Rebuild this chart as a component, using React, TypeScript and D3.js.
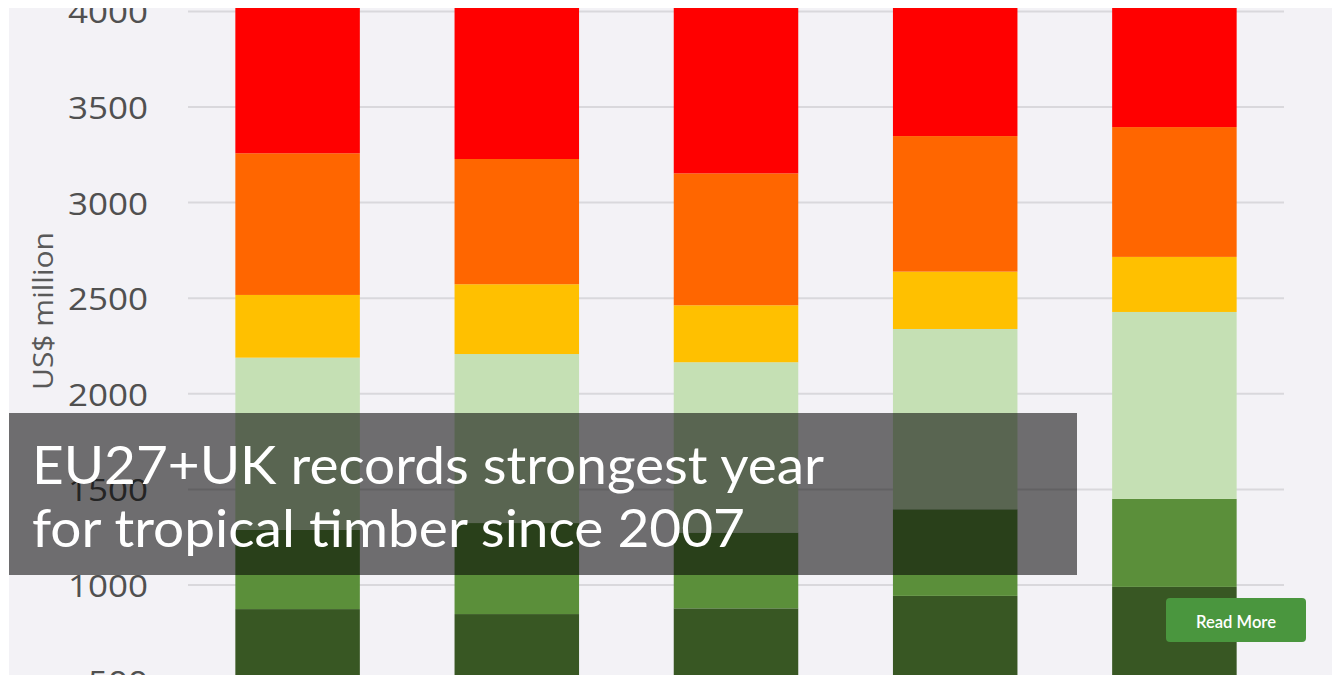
import React from "react";
import * as d3 from "d3";

const years = ["2017", "2018", "2019", "2020", "2021"];
const seriesNames = ["Series A", "Series B", "Series C", "Series D", "Series E", "Series F"];
const seriesColors = ["#385723", "#5b8f3a", "#c5e0b4", "#ffc000", "#ff6600", "#ff0000"];
const darkGreen = [874, 848, 878, 943, 990];
const midGreen = [414, 476, 396, 453, 460];
const lightGreen = [901, 884, 891, 943, 978];
const yellow = [328, 365, 298, 300, 288];
const orange = [741, 655, 690, 709, 679];
const red = [1050, 1030, 1020, 1080, 1170];
const yTicks = [500, 1000, 1500, 2000, 2500, 3000, 3500, 4000];
const titleLines = ["EU27+UK records strongest year", "for tropical timber since 2007"];

const W = 1332;
const H = 675;

export default function App() {
  const seriesValues = [darkGreen, midGreen, lightGreen, yellow, orange, red];
  const rows = years.map((yr, i) => {
    const r: any = { year: yr };
    seriesNames.forEach((s, k) => (r[s] = seriesValues[k][i]));
    return r;
  });
  const stacked = d3.stack().keys(seriesNames)(rows as any);

  const x = d3.scaleBand().domain(years).range([188, 1284]).paddingInner(0.432).paddingOuter(0.216);
  const y = d3.scaleLinear().domain([0, 4000]).range([776.2, 11.4]);

  const frame = { x: 9, y: 8, w: W - 9, h: H - 8 };

  return (
    <svg width={W} height={H} style={{ position: "absolute", left: 0, top: 0, display: "block" }}>
      <defs>
        <clipPath id="area">
          <rect x={frame.x} y={frame.y} width={frame.w} height={frame.h} />
        </clipPath>
      </defs>
      <rect x={0} y={0} width={W} height={H} fill="#ffffff" />
      <g clipPath="url(#area)">
        <rect x={frame.x} y={frame.y} width={frame.w} height={frame.h} fill="#f3f2f6" />
        {yTicks.map((t) => (
          <line key={"g" + t} x1={188} x2={1284} y1={y(t)} y2={y(t)} stroke="#d9d8dc" strokeWidth={2} />
        ))}
        {yTicks.map((t) => (
          <text
            key={"t" + t}
            x={148}
            y={y(t)}
            textAnchor="end"
            dominantBaseline="central"
            fontFamily="'Open Sans', sans-serif"
            fontSize={31}
            fill="#505050"
            textLength={String(t).length * 20}
            lengthAdjust="spacingAndGlyphs"
          >
            {t}
          </text>
        ))}
        <text
          transform={`translate(53,311) rotate(-90)`}
          textAnchor="middle"
          fontFamily="'Open Sans', sans-serif"
          fontSize={27}
          fill="#595959"
          textLength={158}
          lengthAdjust="spacingAndGlyphs"
        >
          US$ million
        </text>
        {stacked.map((layer, k) => (
          <g key={"s" + k} fill={seriesColors[k]}>
            {layer.map((d: any, i: number) => (
              <rect
                key={i}
                x={x(years[i])}
                width={x.bandwidth()}
                y={y(d[1])}
                height={y(d[0]) - y(d[1])}
              />
            ))}
          </g>
        ))}
        <rect x={9} y={413} width={1068} height={162} fill="rgba(0,0,0,0.55)" />
        {titleLines.map((ln, i) => (
          <text
            key={"l" + i}
            x={32}
            y={484 + i * 63}
            fontFamily="Lato, 'Open Sans', sans-serif"
            fontSize={52}
            fill="#ffffff"
            textLength={i === 0 ? 792 : 713}
            lengthAdjust="spacingAndGlyphs"
          >
            {ln}
          </text>
        ))}
        <rect x={1166} y={598} width={140} height={44} rx={4} fill="#4a963e" />
        <text
          x={1236}
          y={621}
          textAnchor="middle"
          dominantBaseline="central"
          fontFamily="Lato, sans-serif"
          fontWeight={600}
          fontSize={17}
          fill="#ffffff"
          textLength={80}
          lengthAdjust="spacingAndGlyphs"
        >
          Read More
        </text>
      </g>
    </svg>
  );
}
